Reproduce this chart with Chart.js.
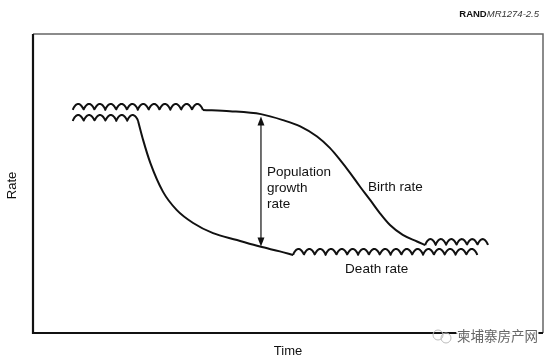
<!DOCTYPE html>
<html>
<head>
<meta charset="utf-8">
<script src="https://cdn.jsdelivr.net/npm/chart.js@4.4.1/dist/chart.umd.min.js"></script>
<style>
  html, body { margin: 0; padding: 0; background: #fff; }
  #wrap { width: 553px; height: 360px; }
</style>
</head>
<body>
<div id="wrap"><canvas id="chart" width="553" height="360"></canvas></div>
<script>
// Time and rate on an arbitrary 0-100 scale (the figure has no ticks)
const birthX = [33.3, 38.6, 44.7, 49.0, 52.4, 55.7, 58.2, 60.2, 62.2, 64.1, 66.1, 68.0, 70.0, 72.5, 75.3, 76.9];
const birthY = [74.6, 74.2, 73.2, 71.2, 69.1, 65.7, 61.9, 57.9, 53.5, 49.0, 44.5, 40.1, 36.1, 32.8, 30.6, 29.4];
const deathX = [20.6, 21.6, 23.0, 25.5, 28.2, 31.4, 35.3, 40.0, 44.5, 48.4, 51.0];
const deathY = [70.9, 64.5, 56.9, 47.2, 41.1, 36.8, 33.4, 31.1, 28.9, 27.3, 26.1];

// uncertain stretches, drawn wavy: [xStart, xEnd, y]
const birthWavy = [[7.8, 33.3, 74.6], [76.9, 89.2, 29.4]];
const deathWavy = [[7.8, 20.6, 70.9], [51.0, 87.1, 26.1]];

// double arrow for the growth rate gap
const arrowX = 44.7;
const arrowY = [72.4, 28.9];

const labels = [
  { text: "Population", x: 45.9, y: 53.9 },
  { text: "growth", x: 45.9, y: 48.5 },
  { text: "rate", x: 45.9, y: 43.1 },
  { text: "Birth rate", x: 65.7, y: 48.9 },
  { text: "Death rate", x: 61.2, y: 21.4 }
];

const FONT = "'Liberation Sans', Arial, Helvetica, sans-serif";
const INK = "#111";

function pts(xs, ys) {
  return xs.map((x, i) => ({ x: x, y: ys[i] }));
}

function wavySets(list) {
  return list.map(w => ({
    data: [{ x: w[0], y: w[2] }, { x: w[1], y: w[2] }],
    showLine: false,
    pointRadius: 0,
    wavy: true
  }));
}

// draws the wavy stretches between the two points of each wavy dataset
const wavyPlugin = {
  id: "wavy",
  afterDatasetsDraw(chart) {
    const ctx = chart.ctx;
    chart.data.datasets.forEach((ds, i) => {
      if (!ds.wavy) return;
      const meta = chart.getDatasetMeta(i);
      const a = meta.data[0], b = meta.data[1];
      const len = b.x - a.x;
      const n = Math.max(1, Math.round(len / 11));
      const period = len / n;
      ctx.save();
      ctx.strokeStyle = INK;
      ctx.lineWidth = 2;
      ctx.lineJoin = "round";
      ctx.beginPath();
      for (let s = 0; s <= len; s += 0.5) {
        const h = Math.pow(Math.abs(Math.sin(Math.PI * s / period)), 0.75);
        const y = a.y - 6 * h;
        if (s === 0) ctx.moveTo(a.x + s, y);
        else ctx.lineTo(a.x + s, y);
      }
      ctx.lineTo(b.x, b.y);
      ctx.stroke();
      ctx.restore();
    });
  }
};

const framePlugin = {
  id: "frame",
  afterDraw(chart) {
    const ctx = chart.ctx;
    const { left, top, right, bottom } = chart.chartArea;
    const xs = chart.scales.x, ys = chart.scales.y;
    ctx.save();
    // top and right edges, lighter
    ctx.strokeStyle = "#666";
    ctx.lineWidth = 1.5;
    ctx.beginPath();
    ctx.moveTo(left, top);
    ctx.lineTo(right, top);
    ctx.lineTo(right, bottom);
    ctx.stroke();
    // axes
    ctx.strokeStyle = INK;
    ctx.lineWidth = 2.2;
    ctx.beginPath();
    ctx.moveTo(left, top);
    ctx.lineTo(left, bottom);
    ctx.lineTo(right, bottom);
    ctx.stroke();

    // arrow
    const ax = xs.getPixelForValue(arrowX);
    const y1 = ys.getPixelForValue(arrowY[0]);
    const y2 = ys.getPixelForValue(arrowY[1]);
    ctx.lineWidth = 1.2;
    ctx.beginPath();
    ctx.moveTo(ax, y1 + 6);
    ctx.lineTo(ax, y2 - 6);
    ctx.stroke();
    ctx.fillStyle = INK;
    ctx.beginPath();
    ctx.moveTo(ax, y1);
    ctx.lineTo(ax - 3.5, y1 + 9);
    ctx.lineTo(ax + 3.5, y1 + 9);
    ctx.closePath();
    ctx.fill();
    ctx.beginPath();
    ctx.moveTo(ax, y2);
    ctx.lineTo(ax - 3.5, y2 - 9);
    ctx.lineTo(ax + 3.5, y2 - 9);
    ctx.closePath();
    ctx.fill();

    // in-plot labels
    ctx.fillStyle = INK;
    ctx.font = "13.5px " + FONT;
    ctx.textBaseline = "middle";
    ctx.textAlign = "left";
    labels.forEach(l => {
      ctx.fillText(l.text, xs.getPixelForValue(l.x), ys.getPixelForValue(l.y));
    });

    // axis titles
    ctx.font = "13px " + FONT;
    ctx.textAlign = "center";
    ctx.fillText("Time", (left + right) / 2, 351);
    ctx.save();
    ctx.translate(12, (top + bottom) / 2 + 2);
    ctx.rotate(-Math.PI / 2);
    ctx.fillText("Rate", 0, 0);
    ctx.restore();

    // figure id, top right
    ctx.textAlign = "left";
    ctx.font = "italic 9.5px " + FONT;
    const idW = ctx.measureText("MR1274-2.5").width;
    ctx.font = "bold 9.5px " + FONT;
    const randW = ctx.measureText("RAND").width;
    const startX = 539 - idW - randW;
    ctx.fillText("RAND", startX, 14);
    ctx.font = "italic 9.5px " + FONT;
    ctx.fillStyle = "#333";
    ctx.fillText("MR1274-2.5", startX + randW, 14);

    // watermark
    ctx.strokeStyle = "#bbb";
    ctx.lineWidth = 1;
    ctx.beginPath();
    ctx.arc(438, 335, 5, 0, Math.PI * 2);
    ctx.stroke();
    ctx.beginPath();
    ctx.arc(446, 338, 5, 0, Math.PI * 2);
    ctx.stroke();
    ctx.font = "13.5px 'Noto Sans CJK SC', sans-serif";
    ctx.textAlign = "left";
    ctx.lineWidth = 3;
    ctx.strokeStyle = "#fff";
    ctx.strokeText("柬埔寨房产网", 457, 336);
    ctx.fillStyle = "#666";
    ctx.fillText("柬埔寨房产网", 457, 336);
    ctx.restore();
  }
};

const datasets = [
  {
    label: "Birth rate",
    data: pts(birthX, birthY),
    borderColor: INK,
    borderWidth: 2,
    pointRadius: 0,
    cubicInterpolationMode: "monotone"
  },
  {
    label: "Death rate",
    data: pts(deathX, deathY),
    borderColor: INK,
    borderWidth: 2,
    pointRadius: 0,
    cubicInterpolationMode: "monotone"
  }
].concat(wavySets(birthWavy), wavySets(deathWavy));

new Chart(document.getElementById("chart"), {
  type: "line",
  data: { datasets: datasets },
  plugins: [wavyPlugin, framePlugin],
  options: {
    responsive: false,
    animation: false,
    layout: { padding: { left: 33, top: 34, right: 10, bottom: 27 } },
    plugins: { legend: { display: false }, tooltip: { enabled: false } },
    scales: {
      x: { type: "linear", min: 0, max: 100, display: false },
      y: { type: "linear", min: 0, max: 100, display: false }
    }
  }
});
</script>
</body>
</html>
